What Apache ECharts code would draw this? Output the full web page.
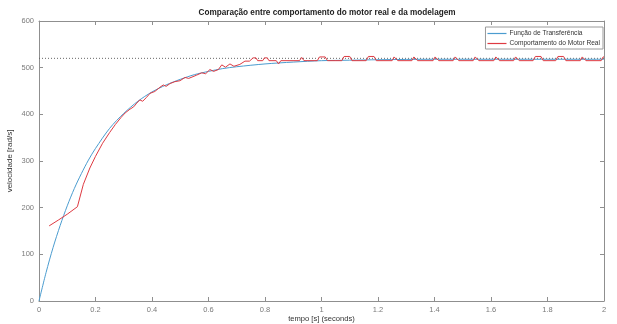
<!DOCTYPE html>
<html>
<head>
<meta charset="utf-8">
<script src="https://cdn.jsdelivr.net/npm/echarts@6/dist/echarts.min.js"></script>
<style>html,body{margin:0;padding:0;background:#fff;}#c{width:617px;height:324px;}</style>
</head>
<body>
<div id="c"></div>
<script>
// ---- data ----
const titleText = "Comparação entre comportamento do motor real e da modelagem";
const seriesNames = ["Função de Transferência", "Comportamento do Motor Real"];
const xTicks = [0, 0.2, 0.4, 0.6, 0.8, 1, 1.2, 1.4, 1.6, 1.8, 2];
const yTicks = [0, 100, 200, 300, 400, 500, 600];
const refLevel = 520;

const blueT = [0, 0.025, 0.05, 0.075, 0.1, 0.125, 0.15, 0.175, 0.2, 0.25, 0.3, 0.35, 0.4, 0.45, 0.5, 0.55, 0.6, 0.65, 0.7, 0.8, 0.9, 1.0, 1.1, 1.2, 1.4, 1.6, 2.0];
const blueV = [0, 61, 115, 162, 204, 241, 273, 302, 327, 370, 402, 428, 448, 463, 475, 485, 492, 498, 502, 508, 512, 515, 516, 517, 518, 518, 518];

const redT = [0.036, 0.07, 0.1, 0.136, 0.157, 0.18, 0.2, 0.225, 0.25, 0.27, 0.29, 0.305, 0.322, 0.335, 0.346, 0.357, 0.367, 0.38, 0.393, 0.41, 0.428, 0.435, 0.44, 0.45, 0.464, 0.481, 0.499, 0.517, 0.53, 0.558, 0.576, 0.59, 0.605, 0.618, 0.635, 0.647, 0.66, 0.676, 0.69, 0.711, 0.729, 0.745,
  0.752, 0.758, 0.768, 0.774, 0.792, 0.798, 0.808, 0.814, 0.84, 0.848, 0.856, 0.922, 0.93, 0.938, 0.985, 0.993, 1.013, 1.021, 1.072, 1.08, 1.1, 1.108, 1.158, 1.166, 1.186, 1.194,
  1.25, 1.257, 1.263, 1.27, 1.32, 1.327, 1.333, 1.34, 1.395, 1.402, 1.408, 1.415, 1.466, 1.473, 1.479, 1.486, 1.537, 1.544, 1.55, 1.557, 1.61, 1.617, 1.623, 1.63, 1.68, 1.687, 1.693, 1.70,
  1.749, 1.757, 1.777, 1.785, 1.829, 1.837, 1.857, 1.865, 1.916, 1.923, 1.929, 1.936, 1.99, 1.997, 2.0];
const redV = [161, 174, 186, 202, 250, 285, 310, 338, 361, 378, 393, 403, 411, 416, 424, 431, 428, 436, 445, 449, 458, 455, 463, 460, 466, 470, 472, 479, 477, 484, 489, 487, 496, 492, 496, 506, 501, 508, 503, 507, 514, 514,
  514, 521, 521, 515, 515, 521, 521, 515, 515, 508, 515, 515, 522, 515, 515, 523, 523, 515, 515, 524, 524, 515, 515, 524, 524, 515,
  515, 523, 523, 515, 515, 523, 523, 515, 515, 523, 523, 515, 515, 523, 523, 515, 515, 523, 523, 515, 515, 523, 523, 515, 515, 523, 523, 515,
  515, 524, 524, 515, 515, 524, 524, 515, 515, 523, 523, 515, 515, 523, 523];

// ---- chart ----
const zip = (a, b) => a.map((v, i) => [v, b[i]]);
const FONT = "Liberation Sans";
const axisColor = "#8f8f8f";
const labelColor = "#7a7a7a";

const chart = echarts.init(document.getElementById('c'), null, {renderer: 'canvas'});
const xBase = {
  type: 'value', min: xTicks[0], max: xTicks[xTicks.length - 1], interval: 0.2,
  axisLine: {show: true, onZero: false, lineStyle: {color: axisColor, width: 1}},
  axisTick: {show: true, inside: true, length: 4, lineStyle: {color: axisColor}},
  splitLine: {show: false}
};
const yBase = {
  type: 'value', min: yTicks[0], max: yTicks[yTicks.length - 1], interval: 100,
  axisLine: {show: true, onZero: false, lineStyle: {color: axisColor, width: 1}},
  axisTick: {show: true, inside: true, length: 4, lineStyle: {color: axisColor}},
  splitLine: {show: false}
};
chart.setOption({
  animation: false,
  backgroundColor: '#ffffff',
  title: {
    text: titleText, left: 322, textAlign: 'center', top: 4,
    textStyle: {fontFamily: FONT, fontSize: 8.2, fontWeight: 'bold', color: '#222'}
  },
  grid: {left: 39, right: 13, top: 21, bottom: 23, containLabel: false, outerBoundsMode: 'none'},
  legend: {
    orient: 'vertical', right: 14, top: 27,
    data: seriesNames.map(n => ({name: n})),
    icon: 'rect', itemWidth: 19, itemHeight: 1.2, itemGap: 3,
    backgroundColor: '#fff', borderColor: '#9a9a9a', borderWidth: 1, borderRadius: 0,
    padding: [3, 3, 2, 2],
    textStyle: {fontFamily: FONT, fontSize: 6.6, color: '#333', padding: [0, 0, 0, -2]}
  },
  xAxis: [
    Object.assign({}, xBase, {
      position: 'bottom',
      name: 'tempo [s] (seconds)', nameLocation: 'middle', nameGap: 14, nameMoveOverlap: false,
      nameTextStyle: {fontFamily: FONT, fontSize: 7.6, color: '#333', verticalAlign: 'top', lineHeight: 8},
      axisLabel: {fontFamily: FONT, fontSize: 7.5, color: labelColor, margin: 5}
    }),
    Object.assign({}, xBase, {position: 'top', axisLabel: {show: false}})
  ],
  yAxis: [
    Object.assign({}, yBase, {
      position: 'left',
      name: 'velocidade [rad/s]', nameLocation: 'middle', nameGap: 25, nameRotate: 90, nameMoveOverlap: false,
      nameTextStyle: {fontFamily: FONT, fontSize: 8, color: '#333'},
      axisLabel: {fontFamily: FONT, fontSize: 7.5, color: labelColor, margin: 5}
    }),
    Object.assign({}, yBase, {position: 'right', axisLabel: {show: false}})
  ],
  series: [
    {
      name: seriesNames[0], type: 'line', data: zip(blueT, blueV), smooth: 0.3,
      showSymbol: false, symbol: 'none', color: '#4b9ccf',
      lineStyle: {color: '#4b9ccf', width: 1}, z: 3
    },
    {
      name: seriesNames[1], type: 'line', data: zip(redT, redV),
      showSymbol: false, symbol: 'none', color: '#de3a42',
      lineStyle: {color: '#de3a42', width: 1}, z: 4
    },
    {
      name: 'ref', type: 'line', data: [[xTicks[0], refLevel], [xTicks[xTicks.length - 1], refLevel]],
      showSymbol: false, symbol: 'none', silent: true,
      lineStyle: {color: '#666', width: 1, type: [1, 2]}, z: 2
    }
  ]
});
</script>
</body>
</html>
